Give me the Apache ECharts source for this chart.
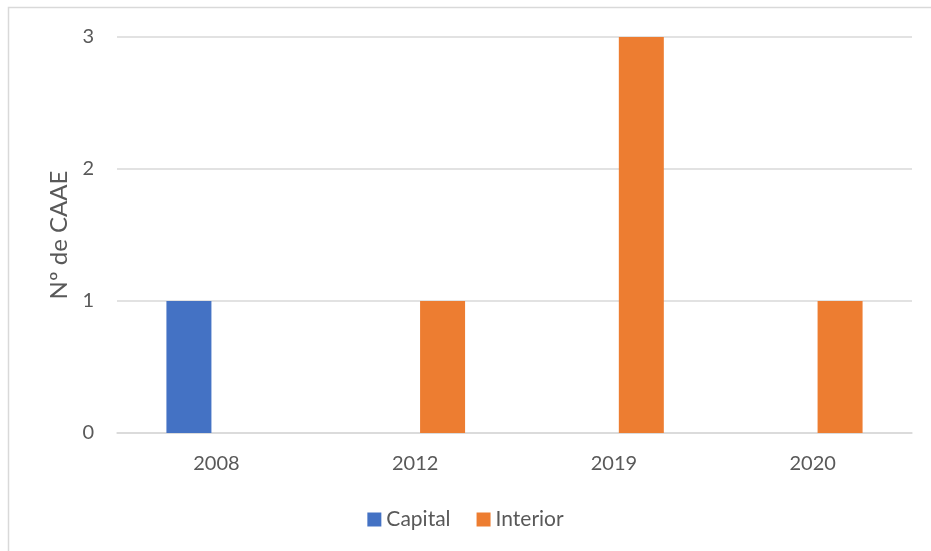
<!DOCTYPE html>
<html>
<head>
<meta charset="utf-8">
<script src="https://cdn.jsdelivr.net/npm/echarts@6/dist/echarts.min.js"></script>
<style>
html,body{margin:0;padding:0;background:#fff;}
#chart{width:931px;height:551px;}
</style>
</head>
<body>
<div id="chart"></div>
<script>
const categories = ['2008', '2012', '2019', '2020'];
const capitalValues = [1, null, null, null];
const interiorValues = [null, 1, 3, 1];
const yTicks = [0, 1, 2, 3];

const chart = echarts.init(document.getElementById('chart'), null, {renderer: 'canvas'});
const font = 'Lato, "Liberation Sans", sans-serif';
chart.setOption({
  animation: false,
  backgroundColor: '#ffffff',
  textStyle: {fontFamily: font},
  graphic: [{
    type: 'rect',
    shape: {x: 8.5, y: 7.5, width: 940, height: 560},
    style: {fill: 'none', stroke: '#d9d9d9', lineWidth: 1.5},
    silent: true
  }],
  grid: {left: 117, right: 19, top: 37, bottom: 118},
  legend: {
    data: ['Capital', 'Interior'],
    top: 504,
    left: 'center',
    itemWidth: 14,
    itemHeight: 14,
    itemGap: 26,
    icon: 'rect',
    textStyle: {fontSize: 21, color: '#595959', fontFamily: font}
  },
  xAxis: {
    type: 'category',
    data: categories,
    axisLine: {lineStyle: {color: '#d9d9d9', width: 1.5}},
    axisTick: {show: false},
    axisLabel: {fontSize: 20, color: '#595959', margin: 21, fontFamily: font}
  },
  yAxis: {
    type: 'value',
    min: yTicks[0],
    max: yTicks[yTicks.length - 1],
    interval: 1,
    name: 'Nº de CAAE',
    nameLocation: 'middle',
    nameGap: 44,
    nameTextStyle: {fontSize: 24, color: '#595959', fontFamily: font},
    axisLine: {show: false},
    axisTick: {show: false},
    axisLabel: {fontSize: 20, color: '#595959', margin: 23, fontFamily: font},
    splitLine: {lineStyle: {color: '#d9d9d9', width: 1.5}}
  },
  series: [
    {
      name: 'Capital',
      type: 'bar',
      data: capitalValues,
      barWidth: 45,
      barGap: '22%',
      itemStyle: {color: '#4472C4'}
    },
    {
      name: 'Interior',
      type: 'bar',
      data: interiorValues,
      barWidth: 45,
      barGap: '22%',
      itemStyle: {color: '#ED7D31'}
    }
  ]
});
</script>
</body>
</html>
